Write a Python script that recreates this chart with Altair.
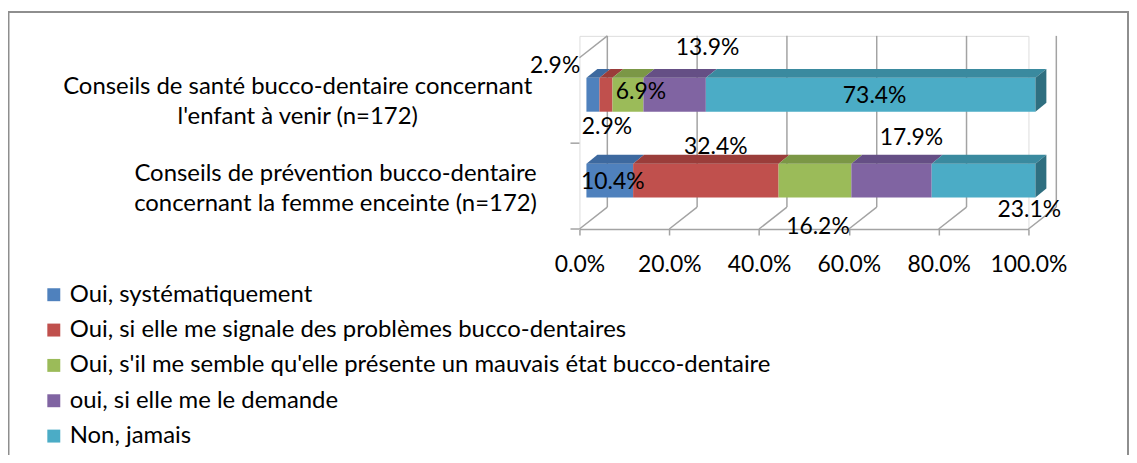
import altair as alt
import pandas as pd

# ---------------- data ----------------
cat_keys = ["enfant", "femme"]
cat_labels = [
    "Conseils de santé bucco-dentaire concernant\nl'enfant à venir (n=172)",
    "Conseils de prévention bucco-dentaire\nconcernant la femme enceinte (n=172)",
]
cat_pos = [1, 0]
series = [
    "Oui, systématiquement",
    "Oui, si elle me signale des problèmes bucco-dentaires",
    "Oui, s'il me semble qu'elle présente un mauvais état bucco-dentaire",
    "oui, si elle me le demande",
    "Non, jamais",
]
enfant_values = [2.9, 2.9, 6.9, 13.9, 73.4]
femme_values = [10.4, 32.4, 16.2, 17.9, 23.1]
x_ticks = [0, 20, 40, 60, 80, 100]
cat_bounds = [-0.5, 0.5]

# ---------------- style ----------------
FONT = "Lato"
W, H = 451, 194
Y_DOMAIN = [-0.5, 1.75]
UX = 100.0 / W
UY = (Y_DOMAIN[1] - Y_DOMAIN[0]) / H
FRONT_DX, FRONT_DY = 7, 5.5      # px shift of bar front face
BAR_HALF = 17                    # px half thickness
DEPTH_DX, DEPTH_DY = 11, 9       # bar depth (px)
WALL_DX, WALL_DY = 28, 22        # wall depth (px)
front_colors = ["#4F81BD", "#C0504D", "#9BBB59", "#8064A2", "#4BACC6"]
top_colors = ["#3D699F", "#9A3D3A", "#7B9746", "#654F85", "#3A8A9F"]
side_color = "#2F6F80"
grid_color = "#a3a3a3"
label_offsets = {
    "enfant": [(-31, -34), (8, 27), (20, -8), (40, -52), (11, -4)],
    "femme": [(10, -4), (17, -39), (10, 41), (27, -48), (53, 24)],
}
labels_behind = {("femme", 1)}
cat_label_offsets = {"enfant": (-283, -13), "femme": (-245, -12)}

xscale = alt.Scale(domain=[0, 100], nice=False, zero=False)
yscale = alt.Scale(domain=Y_DOMAIN, nice=False, zero=False)
xaxis = alt.Axis(
    values=x_ticks, labelExpr="format(datum.value, '.1f') + '%'", title=None,
    grid=False, domainColor=grid_color, domainWidth=1.5, tickColor=grid_color,
    tickWidth=1.5, tickSize=6, labelFont=FONT, labelFontSize=23, labelColor="black",
    labelPadding=19, labelFlush=False, labelOverlap=False,
)

def X(f=None, datum=None, **kw):
    if datum is not None:
        return alt.X(datum=datum, scale=xscale, axis=xaxis, **kw)
    return alt.X(f, scale=xscale, axis=xaxis, **kw)

def Y(f=None, datum=None, **kw):
    if datum is not None:
        return alt.Y(datum=datum, scale=yscale, axis=None, **kw)
    return alt.Y(f, scale=yscale, axis=None, **kw)

# ---------------- geometry from data ----------------
front_rows, top_rows, side_rows, label_rows = [], [], [], []
values_by_cat = {"enfant": enfant_values, "femme": femme_values}
for key, pos in zip(cat_keys, cat_pos):
    vals = values_by_cat[key]
    cum = 0.0
    yc = pos + FRONT_DY * UY
    yb, yt = yc - BAR_HALF * UY, yc + BAR_HALF * UY
    dx, dy = DEPTH_DX * UX, DEPTH_DY * UY
    for si, v in enumerate(vals):
        x0, x1 = cum, cum + v
        cum = x1
        x0f, x1f = x0 + FRONT_DX * UX, x1 + FRONT_DX * UX
        front_rows.append(dict(series=series[si], x0=x0f, x1=x1f, yb=yb, yt=yt))
        sid = f"{key}-{si}"
        pts = [(x0f, yt, yt), (x0f + dx, yt + dy, yt), (x1f, yt + dy, yt),
               (x1f + dx, yt + dy, yt + dy)]
        for k, (px, py, py2) in enumerate(pts):
            top_rows.append(dict(sid=sid, k=k, x=px, y=py, y2=py2, fc=top_colors[si]))
        if si == len(vals) - 1:
            side_rows.append(dict(sid=sid, k=0, x=x1f, y=yt, y2=yb, fc=side_color))
            side_rows.append(dict(sid=sid, k=1, x=x1f + dx, y=yt + dy, y2=yb + dy, fc=side_color))
        ox, oy = label_offsets[key][si]
        label_rows.append(dict(cat=key, si=si, x=(x0 + x1) / 2, y=pos,
                               text=f"{v:.1f}%", dx=ox, dy=oy,
                               behind=(key, si) in labels_behind))

front_df = pd.DataFrame(front_rows)
top_df = pd.DataFrame(top_rows)
side_df = pd.DataFrame(side_rows)
ticks_df = pd.DataFrame({"v": x_ticks})
bounds_df = pd.DataFrame({"b": cat_bounds})
one = pd.DataFrame({"a": [0]})

layers = []

# outer frame
layers.append(
    alt.Chart(one).mark_rect(fillOpacity=0, stroke="#8e8e8e", strokeWidth=2).encode(
        x=alt.value(-573.5), x2=alt.value(551), y=alt.value(-24), y2=alt.value(440)
    )
)

# back wall gridlines
layers.append(
    alt.Chart(ticks_df).mark_rule(color=grid_color, strokeWidth=1.5,
                                  xOffset=WALL_DX, yOffset=-WALL_DY).encode(
        x=X("v:Q"), y=Y(datum=Y_DOMAIN[0]), y2=alt.Y2(datum=Y_DOMAIN[1])
    )
)
# floor diagonals
layers.append(
    alt.Chart(ticks_df).mark_rule(color=grid_color, strokeWidth=1.5,
                                  x2Offset=WALL_DX, y2Offset=-WALL_DY).encode(
        x=X("v:Q"), x2="v:Q", y=Y(datum=Y_DOMAIN[0]), y2=alt.Y2(datum=Y_DOMAIN[0])
    )
)
# left wall top edge
layers.append(
    alt.Chart(one).mark_rule(color=grid_color, strokeWidth=1.5,
                             yOffset=WALL_DY, x2Offset=WALL_DX).encode(
        x=X(datum=0), x2=alt.X2(datum=0),
        y=Y(datum=Y_DOMAIN[1]), y2=alt.Y2(datum=Y_DOMAIN[1])
    )
)
# left category ticks
layers.append(
    alt.Chart(bounds_df).mark_rule(color=grid_color, strokeWidth=1.5, xOffset=-9).encode(
        x=X(datum=0), x2=alt.X2(datum=0), y=Y("b:Q")
    )
)

def value_label(row):
    df = pd.DataFrame([row])
    return alt.Chart(df).mark_text(
        font=FONT, fontSize=23, color="black", align="center", baseline="middle",
        dx=row["dx"], dy=row["dy"]
    ).encode(x=X("x:Q"), y=Y("y:Q"), text="text:N")

for row in label_rows:
    if row["behind"]:
        layers.append(value_label(row))

# bar front faces
layers.append(
    alt.Chart(front_df).mark_rect().encode(
        x=X("x0:Q"), x2="x1:Q", y=Y("yb:Q"), y2="yt:Q",
        color=alt.Color("series:N", scale=alt.Scale(domain=series, range=front_colors),
                        legend=alt.Legend(
                            title=None, orient="none", legendX=-540, legendY=248,
                            direction="vertical", symbolType="square", symbolSize=169,
                            symbolStrokeWidth=0, labelFont=FONT, labelFontSize=24,
                            labelColor="black", labelLimit=1000, labelOffset=4,
                            rowPadding=11.5, padding=0)),
    )
)
# bar top faces
layers.append(
    alt.Chart(top_df).mark_area(interpolate="linear").encode(
        x=alt.X("x:Q", scale=xscale, axis=xaxis, sort=None),
        y=Y("y:Q", stack=None), y2="y2:Q",
        detail="sid:N", color=alt.Color("fc:N", scale=None, legend=None)
    )
)
# bar side faces
layers.append(
    alt.Chart(side_df).mark_area(interpolate="linear").encode(
        x=alt.X("x:Q", scale=xscale, axis=xaxis, sort=None),
        y=Y("y:Q", stack=None), y2="y2:Q",
        detail="sid:N", color=alt.Color("fc:N", scale=None, legend=None)
    )
)

for row in label_rows:
    if not row["behind"]:
        layers.append(value_label(row))

# category labels
for key, lab, pos in zip(cat_keys, cat_labels, cat_pos):
    ox, oy = cat_label_offsets[key]
    layers.append(
        alt.Chart(pd.DataFrame({"t": [lab], "y": [pos]})).mark_text(
            font=FONT, fontSize=24, color="black", align="center", baseline="middle",
            lineBreak="\n", lineHeight=30, dx=ox, dy=oy
        ).encode(x=X(datum=0), y=Y("y:Q"), text="t:N")
    )

chart = alt.layer(*layers).properties(
    width=W, height=H,
    autosize=alt.AutoSizeParams(type="none"),
    padding={"left": 574, "top": 27, "right": 101, "bottom": 226},
).configure_view(stroke=None).configure(background="white")

chart.save("out.html", embed_options={"renderer": "svg", "actions": False})
